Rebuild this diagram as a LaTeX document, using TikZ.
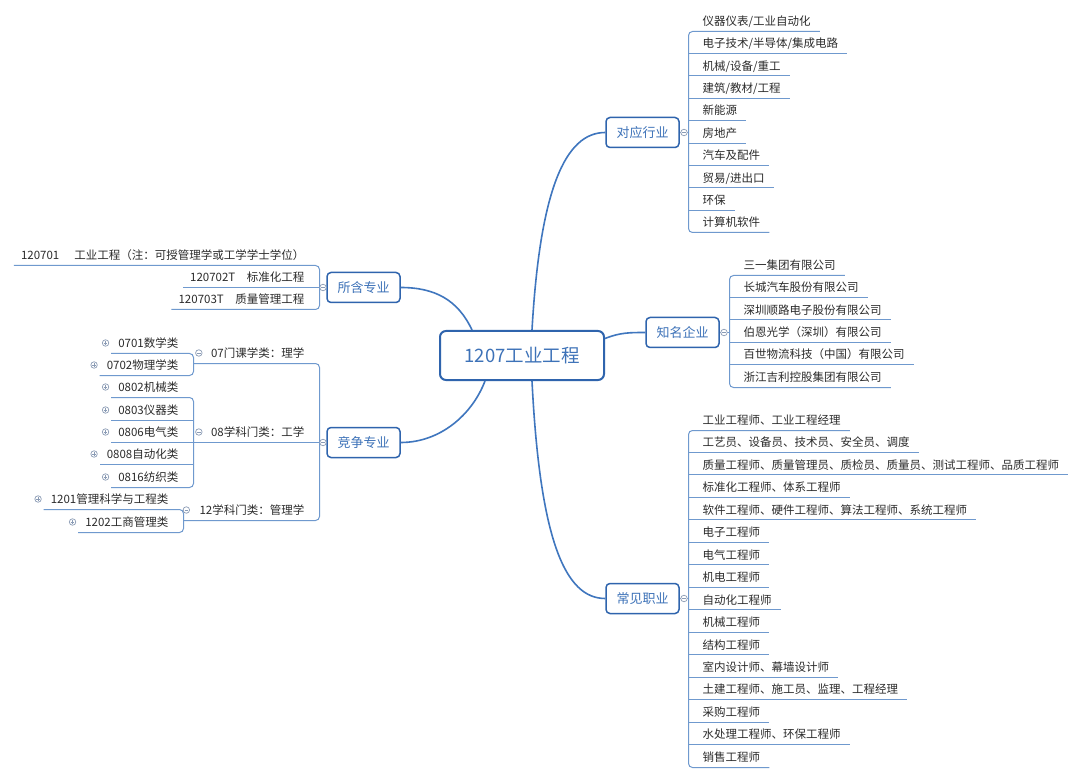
\documentclass[tikz,border=0pt]{standalone}
\usepackage{fontspec}
\setmainfont{Noto Sans CJK SC}
\usetikzlibrary{calc}
\definecolor{boxc}{HTML}{2F64AD}
\definecolor{btxt}{HTML}{3D72B8}
\definecolor{linec}{HTML}{3F76BE}
\definecolor{ulc}{HTML}{6F99CE}
\definecolor{ltxt}{HTML}{2B2B2B}
\definecolor{knobc}{HTML}{8A9BB5}
\newcommand\RL[4]{%
  \node[leaf,anchor=west] (#1) at (#2+11,#3) {#4};
  \pgfmathsetmacro\uy{floor(#3+10)+0.5}%
  \coordinate (#1-a) at (#2,\uy);
  \coordinate (#1-b) at ($(#1.east |- #1-a)+(6,0)$);}
\newcommand\LL[4]{%
  \node[leaf,anchor=east] (#1) at (#2-12,#3) {#4};
  \pgfmathsetmacro\uy{floor(#3+10)+0.5}%
  \coordinate (#1-a) at (#2,\uy);
  \coordinate (#1-b) at ($(#1.west |- #1-a)+(-4,0)$);}
\newcommand\KP[2]{%
  \node[knob] (#1) at (#2) {};
  \draw[knobline] ($(#1)+(-1.7,0)$) -- ($(#1)+(1.7,0)$) ($(#1)+(0,-1.7)$) -- ($(#1)+(0,1.7)$);}
\newcommand\KM[2]{%
  \node[knob] (#1) at (#2) {};
  \draw[knobline] ($(#1)+(-1.7,0)$) -- ($(#1)+(1.7,0)$);}
\newcommand\LK[4]{%
  \LL{#1}{#2}{#3}{#4}%
  \KP{#1-k}{$(#1.west)+(-9.5,0)$}}
\begin{document}
\begin{tikzpicture}[x=1pt,y=-1pt,
  root/.style={draw=boxc, line width=2pt, rounded corners=6pt, minimum width=164pt, minimum height=49pt, fill=white, text=btxt, font=\fontsize{18.5}{20}\selectfont, inner sep=0pt},
  branch/.style={draw=boxc, line width=1.5pt, rounded corners=4pt, minimum width=73pt, minimum height=30pt, fill=white, text=btxt, font=\fontsize{13}{15}\selectfont, inner sep=0pt},
  leaf/.style={font=\fontsize{11.5}{13}\selectfont, text=ltxt, inner xsep=3pt, inner ysep=0pt, text height=10.1pt, text depth=1.4pt},
  conn/.style={draw=linec, line width=1.6pt},
  uline/.style={draw=ulc, line width=1pt},
  bracket/.style={uline, rounded corners=4pt},
  knob/.style={circle, draw=knobc, fill=white, line width=0.7pt, minimum size=6.5pt, inner sep=0pt},
  knobline/.style={draw=knobc, line width=0.6pt}]
\useasboundingbox (0,0) rectangle (1080,778);
\fill[white] (0,0) rectangle (1080,778);

% central and branch nodes
\node[root] (root) at (522,355.5) {1207工业工程};
\node[branch] (hy) at (642.5,132.5) {对应行业};
\node[branch] (qy) at (682.5,332.5) {知名企业};
\node[branch] (zy) at (642.5,598.5) {常见职业};
\node[branch] (sh) at (363.5,287.5) {所含专业};
\node[branch] (jz) at (363.5,442.5) {竞争专业};

% main connectors
\draw[conn] ($(root.north)+(10,0)$) .. controls (540,190) and (565,132.5) .. (hy.west);
\draw[conn] ($(root.south)+(10,0)$) .. controls (540,540) and (565,598.5) .. (zy.west);
\draw[conn] ($(root.east)+(0,-17)$) .. controls (620,332.5) and (630,332.5) .. (qy.west);
\draw[conn] ($(root.north)+(-50,0)$) .. controls (458,300) and (435,287.5) .. (sh.east);
\draw[conn] ($(root.south)+(-37,0)$) .. controls (472,415) and (440,442.5) .. (jz.east);

% 对应行业
\RL{h1}{688.5}{21}{仪器仪表/工业自动化}
\RL{h2}{688.5}{43.4}{电子技术/半导体/集成电路}
\RL{h3}{688.5}{65.8}{机械/设备/重工}
\RL{h4}{688.5}{88.2}{建筑/教材/工程}
\RL{h5}{688.5}{110.6}{新能源}
\RL{h6}{688.5}{133}{房地产}
\RL{h7}{688.5}{155.4}{汽车及配件}
\RL{h8}{688.5}{177.8}{贸易/进出口}
\RL{h9}{688.5}{200.2}{环保}
\RL{h10}{688.5}{222.6}{计算机软件}
\draw[bracket] (h1-b) -- (h1-a) -- (h10-a) -- (h10-b);
\foreach \i in {2,...,9} {\draw[uline] (h\i-a) -- (h\i-b);}
\coordinate (hyj) at (688.5,132.5);
\draw[uline] (hy.east) -- (hyj);

% 知名企业
\RL{q1}{729.5}{265}{三一集团有限公司}
\RL{q2}{729.5}{287.4}{长城汽车股份有限公司}
\RL{q3}{729.5}{309.8}{深圳顺路电子股份有限公司}
\RL{q4}{729.5}{332.2}{伯恩光学（深圳）有限公司}
\RL{q5}{729.5}{354.6}{百世物流科技（中国）有限公司}
\RL{q6}{729.5}{377}{浙江吉利控股集团有限公司}
\draw[bracket] (q1-b) -- (q1-a) -- (q6-a) -- (q6-b);
\foreach \i in {2,...,5} {\draw[uline] (q\i-a) -- (q\i-b);}
\coordinate (qyj) at (729.5,332.5);
\draw[uline] (qy.east) -- (qyj);

% 常见职业
\RL{z1}{688.5}{420}{工业工程师、工业工程经理}
\RL{z2}{688.5}{442.47}{工艺员、设备员、技术员、安全员、调度}
\RL{z3}{688.5}{464.94}{质量工程师、质量管理员、质检员、质量员、测试工程师、品质工程师}
\RL{z4}{688.5}{487.41}{标准化工程师、体系工程师}
\RL{z5}{688.5}{509.88}{软件工程师、硬件工程师、算法工程师、系统工程师}
\RL{z6}{688.5}{532.35}{电子工程师}
\RL{z7}{688.5}{554.82}{电气工程师}
\RL{z8}{688.5}{577.29}{机电工程师}
\RL{z9}{688.5}{599.76}{自动化工程师}
\RL{z10}{688.5}{622.23}{机械工程师}
\RL{z11}{688.5}{644.7}{结构工程师}
\RL{z12}{688.5}{667.17}{室内设计师、幕墙设计师}
\RL{z13}{688.5}{689.64}{土建工程师、施工员、监理、工程经理}
\RL{z14}{688.5}{712.11}{采购工程师}
\RL{z15}{688.5}{734.58}{水处理工程师、环保工程师}
\RL{z16}{688.5}{757.05}{销售工程师}
\draw[bracket] (z1-b) -- (z1-a) -- (z16-a) -- (z16-b);
\foreach \i in {2,...,15} {\draw[uline] (z\i-a) -- (z\i-b);}
\coordinate (zyj) at (688.5,598.5);
\draw[uline] (zy.east) -- (zyj);

% 所含专业
\LL{s1}{319.5}{255}{120701\hspace{1.3em}工业工程（注：可授管理学或工学学士学位）}
\LL{s2}{319.5}{277}{120702T\hspace{1em}标准化工程}
\LL{s3}{319.5}{299}{120703T\hspace{1em}质量管理工程}
\draw[bracket] (s1-b) -- (s1-a) -- (s3-a) -- (s3-b);
\draw[uline] (s2-a) -- (s2-b);
\coordinate (shj) at (319.5,287.5);
\draw[uline] (sh.west) -- (shj);

% 竞争专业
\LL{c07}{319.5}{353}{07门课学类：理学}
\LL{c08}{319.5}{432}{08学科门类：工学}
\LL{c12}{319.5}{510}{12学科门类：管理学}
\coordinate (c07-e) at (193.5,363.5);
\coordinate (c08-e) at (193.5,442.5);
\coordinate (c12-e) at (183.5,520.5);
\draw[bracket] (c07-e) -- (c07-a) -- (c12-a) -- (c12-e);
\draw[uline] (c08-a) -- (c08-e);
\coordinate (jzj) at (319.5,442.5);
\draw[uline] (jz.west) -- (jzj);

\LK{n0701}{193.5}{343}{0701数学类}
\LK{n0702}{193.5}{365}{0702物理学类}
\draw[bracket] (n0701-b) -- (n0701-a) -- (n0702-a) -- (n0702-b);

\LK{n0802}{193.5}{387}{0802机械类}
\LK{n0803}{193.5}{410}{0803仪器类}
\LK{n0806}{193.5}{432}{0806电气类}
\LK{n0808}{193.5}{454}{0808自动化类}
\LK{n0816}{193.5}{477}{0816纺织类}
\draw[bracket] (n0802-b) -- (n0802-a) -- (n0816-a) -- (n0816-b);
\foreach \i in {0803,0806,0808} {\draw[uline] (n\i-a) -- (n\i-b);}

\LK{n1201}{183.5}{499}{1201管理科学与工程类}
\LK{n1202}{183.5}{522}{1202工商管理类}
\draw[bracket] (n1201-b) -- (n1201-a) -- (n1202-a) -- (n1202-b);

% collapse knobs of expanded topics
\KM{khy}{684,132.5}
\KM{kqy}{724,332.5}
\KM{kzy}{684,598.5}
\KM{ksh}{323,287.5}
\KM{kjz}{323,442.5}
\KM{kc07}{$(c07.west)+(-9,0)$}
\KM{kc08}{$(c08.west)+(-9,0)$}
\KM{kc12}{$(c12.west)+(-10,0)$}
\end{tikzpicture}
\end{document}
